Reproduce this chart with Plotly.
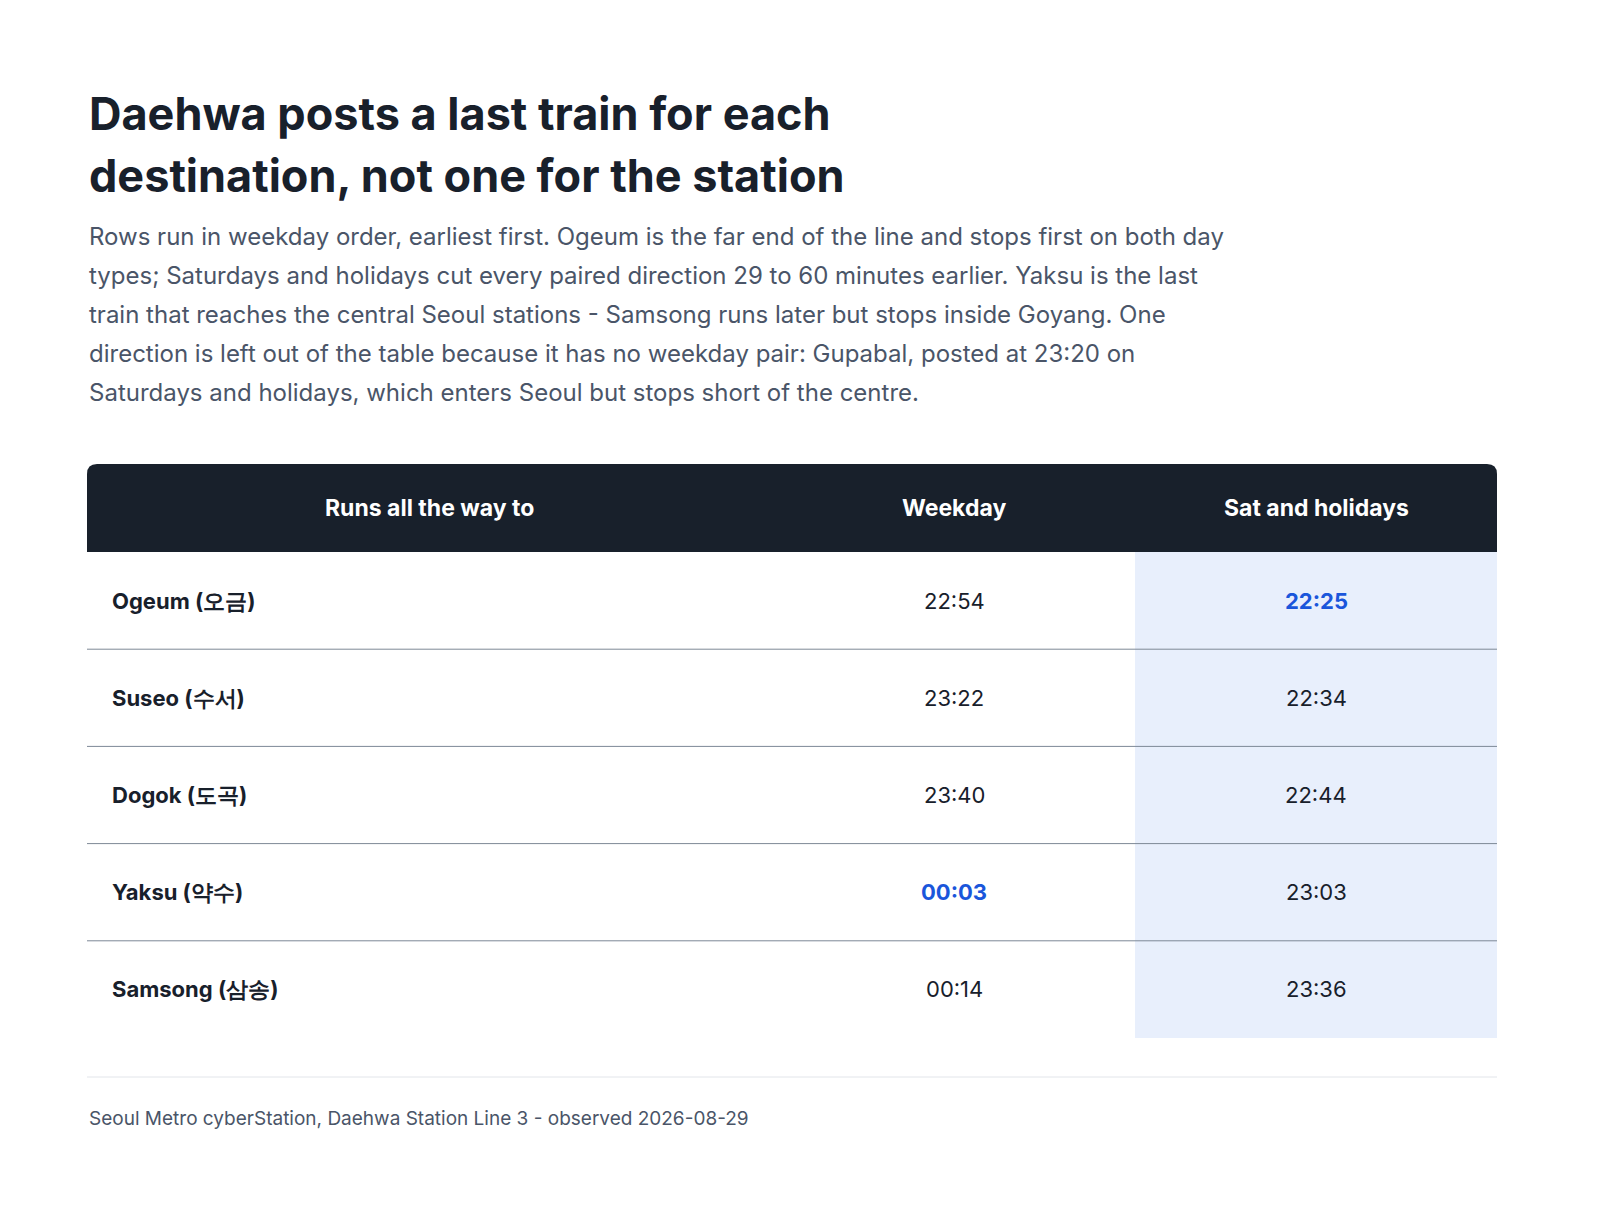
import plotly.graph_objects as go

title_lines = ["Daehwa posts a last train for each", "destination, not one for the station"]
subtitle_lines = [
    "Rows run in weekday order, earliest first. Ogeum is the far end of the line and stops first on both day",
    "types; Saturdays and holidays cut every paired direction 29 to 60 minutes earlier. Yaksu is the last",
    "train that reaches the central Seoul stations - Samsong runs later but stops inside Goyang. One",
    "direction is left out of the table because it has no weekday pair: Gupabal, posted at 23:20 on",
    "Saturdays and holidays, which enters Seoul but stops short of the centre.",
]
headers = ["Runs all the way to", "Weekday", "Sat and holidays"]
destinations = ["Ogeum (오금)", "Suseo (수서)", "Dogok (도곡)", "Yaksu (약수)", "Samsong (삼송)"]
weekday = ["22:54", "23:22", "23:40", "00:03", "00:14"]
weekend = ["22:25", "22:34", "22:44", "23:03", "23:36"]
weekday_hi = [False, False, False, True, False]
weekend_hi = [True, False, False, False, False]
footer = "Seoul Metro cyberStation, Daehwa Station Line 3 - observed 2026-08-29"

FONT = "Inter"
DARK = "#18202b"
SLATE = "#4a5568"
BLUE = "#1a56db"

fig = go.Figure()
shapes, ann = [], []

for i, t in enumerate(title_lines):
    ann.append(dict(x=79, y=105 + 62 * i, text=f"<b>{t}</b>", xanchor="left", yanchor="middle",
                    font=dict(family=FONT, size=45, color=DARK)))
for i, t in enumerate(subtitle_lines):
    ann.append(dict(x=79, y=228 + 39 * i, text=t, xanchor="left", yanchor="middle",
                    font=dict(family=FONT, size=24, color=SLATE)))

# table geometry
x0, x1 = 79, 1489
col_edges = [79, 765, 1127, 1489]
head_top, head_bot = 456, 544
row_h = 97.2
r = 10

# header with rounded top
shapes.append(dict(type="path", fillcolor=DARK, line=dict(width=0),
                   path=f"M {x0},{head_bot} L {x0},{head_top + r} Q {x0},{head_top} {x0 + r},{head_top} "
                        f"L {x1 - r},{head_top} Q {x1},{head_top} {x1},{head_top + r} L {x1},{head_bot} Z"))
header_x = [421, 946, 1308]
for hx, h in zip(header_x, headers):
    ann.append(dict(x=hx, y=(head_top + head_bot) / 2, text=f"<b>{h}</b>", xanchor="center", yanchor="middle",
                    font=dict(family=FONT, size=23, color="white")))

n = len(destinations)
shapes.append(dict(type="rect", x0=col_edges[2], x1=col_edges[3], y0=head_bot, y1=head_bot + n * row_h,
                   fillcolor="#e8effc", line=dict(width=0), layer="below"))

for i in range(n):
    yc = head_bot + row_h * (i + 0.5)
    ann.append(dict(x=102, y=yc, text=f"<b>{destinations[i]}</b>", xanchor="left", yanchor="middle",
                    font=dict(family=FONT, size=22, color=DARK)))
    for hx, val, hi in ((header_x[1], weekday[i], weekday_hi[i]), (header_x[2], weekend[i], weekend_hi[i])):
        ann.append(dict(x=hx, y=yc, text=f"<b>{val}</b>" if hi else val, xanchor="center", yanchor="middle",
                        font=dict(family=FONT, size=22, color=BLUE if hi else DARK)))
    if i < n - 1:
        yl = head_bot + row_h * (i + 1)
        shapes.append(dict(type="line", x0=x0, x1=x1, y0=yl, y1=yl, line=dict(color="#7d8896", width=1)))

shapes.append(dict(type="line", x0=x0, x1=x1, y0=1069, y1=1069, line=dict(color="#e2e5ea", width=1)))
ann.append(dict(x=79, y=1110, text=footer, xanchor="left", yanchor="middle",
                font=dict(family=FONT, size=19, color=SLATE)))

for a in ann:
    a.update(xref="x", yref="y", showarrow=False)
for s in shapes:
    s.update(xref="x", yref="y")

fig.update_layout(
    width=1600, height=1209, margin=dict(l=0, r=0, t=0, b=0),
    paper_bgcolor="white", plot_bgcolor="white",
    xaxis=dict(range=[0, 1600], visible=False, fixedrange=True),
    yaxis=dict(range=[1209, 0], visible=False, fixedrange=True),
    shapes=shapes, annotations=ann, showlegend=False,
)
fig.write_html("out.html")
